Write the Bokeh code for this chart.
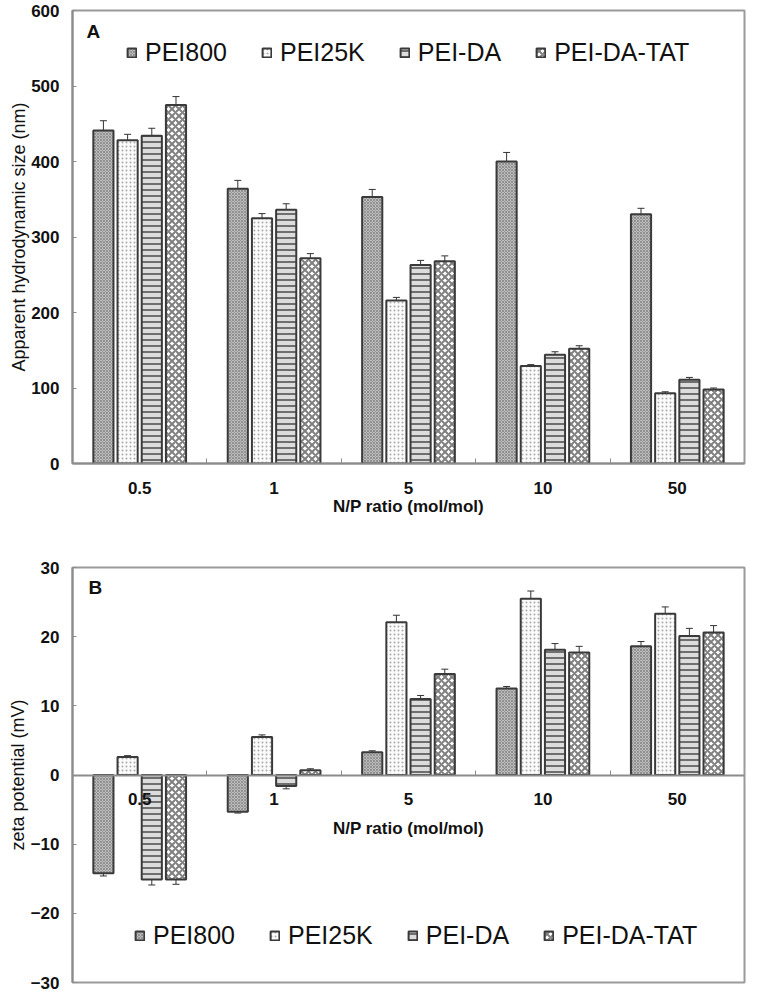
import numpy as np
from bokeh.plotting import figure
from bokeh.models import (ColumnDataSource, Whisker, FixedTicker, Legend, LegendItem,
                          Label, Range1d, TeeHead, Title)
from bokeh.layouts import column
from bokeh.embed import file_html
from bokeh.resources import INLINE

categories = ["0.5", "1", "5", "10", "50"]
series = ["PEI800", "PEI25K", "PEI-DA", "PEI-DA-TAT"]

# Panel A: apparent hydrodynamic size (nm)
size_pei800 = [441, 364, 353, 400, 330]
size_pei25k = [428, 325, 216, 129, 93]
size_peida = [434, 336, 263, 144, 111]
size_peidatat = [475, 272, 268, 152, 98]
size_err_pei800 = [13, 11, 10, 12, 8]
size_err_pei25k = [8, 6, 4, 2, 2]
size_err_peida = [10, 8, 6, 4, 3]
size_err_peidatat = [11, 6, 7, 4, 2]

# Panel B: zeta potential (mV)
zeta_pei800 = [-14.2, -5.3, 3.3, 12.5, 18.6]
zeta_pei25k = [2.6, 5.5, 22.1, 25.5, 23.3]
zeta_peida = [-15.1, -1.6, 11.0, 18.1, 20.1]
zeta_peidatat = [-15.1, 0.7, 14.6, 17.7, 20.6]
zeta_err_pei800 = [0.4, 0.2, 0.2, 0.3, 0.7]
zeta_err_pei25k = [0.2, 0.3, 1.0, 1.1, 1.0]
zeta_err_peida = [0.8, 0.4, 0.5, 0.9, 1.1]
zeta_err_peidatat = [0.7, 0.2, 0.7, 0.9, 1.0]

size_ticks = [0, 100, 200, 300, 400, 500, 600]
zeta_ticks = [-30, -20, -10, 0, 10, 20, 30]

FONT = "Liberation Sans"
AXIS_GRAY = "#8c8c8c"
BAR_LINE = "#3a3a3a"

styles = [
    dict(fill_color="#bdbdbd", hatch_pattern="diagonal_cross", hatch_color="#858585",
         hatch_scale=3, hatch_weight=0.8),
    dict(fill_color="#fbfbfb", hatch_pattern="dot", hatch_color="#aaaaaa",
         hatch_scale=4, hatch_weight=1),
    dict(fill_color="#dcdcdc", hatch_pattern="horizontal_line", hatch_color="#4a4a4a",
         hatch_scale=6, hatch_weight=1.5),
    dict(fill_color="#ffffff", hatch_pattern="diagonal_cross", hatch_color="#808080",
         hatch_scale=7, hatch_weight=2),
]
offsets = [-0.27, -0.09, 0.09, 0.27]
BAR_W = 0.15


def make_panel(values, errs, ticks, width, height, border, legend_loc, letter, letter_pos,
               ytitle, fixed_zero, xlab_standoff, xtitle_standoff):
    lb, rb, tb, bb = border
    p = figure(width=width, height=height, output_backend="svg", toolbar_location=None,
               x_range=Range1d(-0.5, len(categories) - 0.5),
               y_range=Range1d(ticks[0], ticks[-1]),
               min_border_left=lb, min_border_right=rb, min_border_top=tb, min_border_bottom=bb)
    p.xgrid.visible = False
    p.ygrid.visible = False
    p.outline_line_color = "#9a9a9a"
    p.outline_line_width = 2
    p.background_fill_color = "white"
    p.border_fill_color = "white"

    xs_base = np.arange(len(categories))
    items = []
    for i, name in enumerate(series):
        xs = xs_base + offsets[i]
        vals = np.array(values[i], dtype=float)
        err = np.array(errs[i], dtype=float)
        src = ColumnDataSource(dict(x=xs, top=vals, upper=vals + err, lower=vals - err))
        r = p.vbar(x="x", top="top", bottom=0, width=BAR_W, source=src,
                   line_color=BAR_LINE, line_width=2, **styles[i])
        w = Whisker(base="x", upper="upper", lower="lower", source=src,
                    line_color="#333333", line_width=1,
                    upper_head=TeeHead(size=7, line_color="#333333", line_width=1),
                    lower_head=TeeHead(size=7, line_color="#333333", line_width=1))
        p.add_layout(w)
        items.append(LegendItem(label=name, renderers=[r]))

    leg = Legend(items=items, orientation="horizontal", location=legend_loc,
                 label_text_font_size="25px", label_text_font=FONT, label_text_color="#111111",
                 glyph_width=11, glyph_height=11, label_standoff=8, spacing=34,
                 padding=0, margin=0, border_line_color=None, background_fill_alpha=0)
    p.add_layout(leg)

    # x axis
    xa = p.xaxis[0]
    xa.ticker = FixedTicker(ticks=list(xs_base), minor_ticks=list(xs_base[:-1] + 0.5))
    xa.major_label_overrides = {int(k): c for k, c in zip(xs_base, categories)}
    xa.major_tick_line_color = None
    xa.minor_tick_in = 5
    xa.minor_tick_out = 0
    xa.minor_tick_line_color = AXIS_GRAY
    xa.axis_line_color = AXIS_GRAY
    xa.axis_line_width = 2
    xa.major_label_text_font = FONT
    xa.major_label_text_font_style = "bold"
    xa.major_label_text_font_size = "17px"
    xa.major_label_text_color = "#111111"
    xa.major_label_standoff = xlab_standoff
    xa.axis_label = "N/P ratio (mol/mol)"
    xa.axis_label_text_font = FONT
    xa.axis_label_text_font_style = "bold"
    xa.axis_label_text_font_size = "17px"
    xa.axis_label_text_color = "#111111"
    xa.axis_label_standoff = xtitle_standoff
    if fixed_zero:
        xa.fixed_location = 0

    # y axis
    ya = p.yaxis[0]
    ya.ticker = FixedTicker(ticks=ticks)
    ya.major_tick_in = 4
    ya.major_tick_out = 0
    ya.major_tick_line_color = AXIS_GRAY
    ya.minor_tick_line_color = None
    ya.axis_line_color = AXIS_GRAY
    ya.axis_line_width = 2
    ya.major_label_text_font = FONT
    ya.major_label_text_font_style = "bold"
    ya.major_label_text_font_size = "17px"
    ya.major_label_text_color = "#111111"
    ya.major_label_standoff = 13

    p.add_layout(Title(text=ytitle, align="center", standoff=0,
                       text_font=FONT, text_font_style="normal", text_font_size="18px",
                       text_color="#111111"), "left")

    p.add_layout(Label(x=letter_pos[0], y=letter_pos[1], x_units="screen", y_units="screen",
                       text=letter, text_font=FONT, text_font_style="bold",
                       text_font_size="19px", text_baseline="middle", text_color="#111111"))
    return p


pA = make_panel([size_pei800, size_pei25k, size_peida, size_peidatat],
                [size_err_pei800, size_err_pei25k, size_err_peida, size_err_peidatat],
                size_ticks, 752, 540, (71, 8, 10, 77), (54, 396), "A", (14, 432),
                "Apparent hydrodynamic size (nm)", False, 12, 0)

pB = make_panel([zeta_pei800, zeta_pei25k, zeta_peida, zeta_peidatat],
                [zeta_err_pei800, zeta_err_pei25k, zeta_err_peida, zeta_err_peidatat],
                zeta_ticks, 752, 452, (72, 2, 27, 10), (62, 32), "B", (16, 395),
                "zeta potential (mV)", True, 12, 10)

layout = column(pA, pB, spacing=0)
open("out.html", "w").write(file_html(layout, INLINE))
